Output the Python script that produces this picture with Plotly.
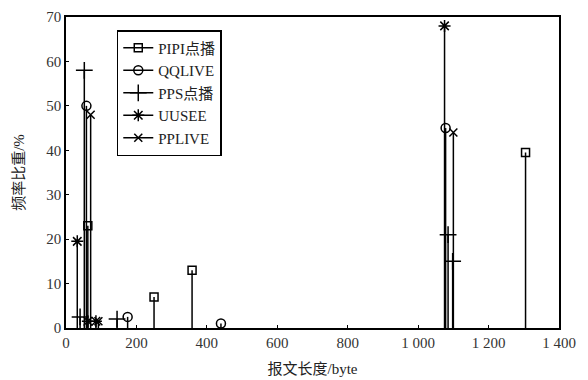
import plotly.graph_objects as go

series_names = ["PIPI点播", "QQLIVE", "PPS点播", "UUSEE", "PPLIVE"]
pipi_x = [62, 250, 358, 1305]
pipi_y = [23, 7, 13, 39.5]
qq_x = [58, 175, 440, 1078]
qq_y = [50, 2.5, 1, 45]
pps_x = [40, 52, 145, 1085, 1098]
pps_y = [2.5, 58, 2, 21, 15]
uusee_x = [32, 62, 85, 1075]
uusee_y = [19.5, 1.5, 1.5, 68]
pplive_x = [70, 92, 1100]
pplive_y = [48, 1.5, 44]

x_tickvals = [0, 200, 400, 600, 800, 1000, 1200, 1400]
x_ticktext = ["0", "200", "400", "600", "800", "1 000", "1 200", "1 400"]
y_tickvals = [0, 10, 20, 30, 40, 50, 60, 70]

data = [
    (series_names[0], pipi_x, pipi_y, "square-open", 8),
    (series_names[1], qq_x, qq_y, "circle-open", 9),
    (series_names[2], pps_x, pps_y, "cross-thin-open", 12),
    (series_names[3], uusee_x, uusee_y, "asterisk-open", 10),
    (series_names[4], pplive_x, pplive_y, "x-thin-open", 8),
]

fig = go.Figure()
for name, xs, ys, sym, sz in data:
    sx, sy = [], []
    for xv, yv in zip(xs, ys):
        sx += [xv, xv, None]
        sy += [0, yv, None]
    fig.add_trace(go.Scatter(x=sx, y=sy, mode="lines", line=dict(color="black", width=1.5),
                             showlegend=False, legendgroup=name, hoverinfo="skip"))
    fig.add_trace(go.Scatter(x=xs, y=ys, mode="markers", showlegend=False, legendgroup=name,
                             marker=dict(symbol=sym, size=sz, color="black", line=dict(color="black", width=1.5))))
    fig.add_trace(go.Scatter(x=[None], y=[None], mode="lines+markers", name=name, legendgroup=name,
                             line=dict(color="black", width=1.5),
                             marker=dict(symbol=sym, size=sz, color="black", line=dict(color="black", width=1.5))))

font_main = "Liberation Serif, Noto Sans CJK SC, serif"
fig.update_layout(
    width=588, height=380,
    margin=dict(l=66, r=29, t=17, b=52),
    paper_bgcolor="white", plot_bgcolor="white",
    font=dict(family=font_main, size=13, color="#222"),
    showlegend=True,
    legend=dict(x=0.103, y=0.958, xanchor="left", yanchor="top",
                bgcolor="white", bordercolor="black", borderwidth=1.5,
                font=dict(family=font_main, size=15, color="#222"),
                itemwidth=30, tracegroupgap=0),
    xaxis=dict(range=[0, 1400], tickvals=x_tickvals, ticktext=x_ticktext,
               ticks="inside", ticklen=3, tickcolor="black", showgrid=False, zeroline=False,
               showline=True, linecolor="black", linewidth=1.5, mirror=True, automargin=False,
               title=dict(text="报文长度/byte", font=dict(family=font_main, size=15, color="#222"), standoff=14),
               tickfont=dict(family=font_main, size=15, color="#333")),
    yaxis=dict(range=[0, 70], tickvals=y_tickvals,
               ticks="inside", ticklen=3, tickcolor="black", showgrid=False, zeroline=False,
               showline=True, linecolor="black", linewidth=1.5, mirror=True, automargin=False,
               title=dict(text="频率比重/%", font=dict(family=font_main, size=15, color="#222"), standoff=18),
               tickfont=dict(family=font_main, size=15, color="#333")),
)

fig.write_html("out.html", config={"displayModeBar": False},
               post_script="document.body.style.margin='0';")
